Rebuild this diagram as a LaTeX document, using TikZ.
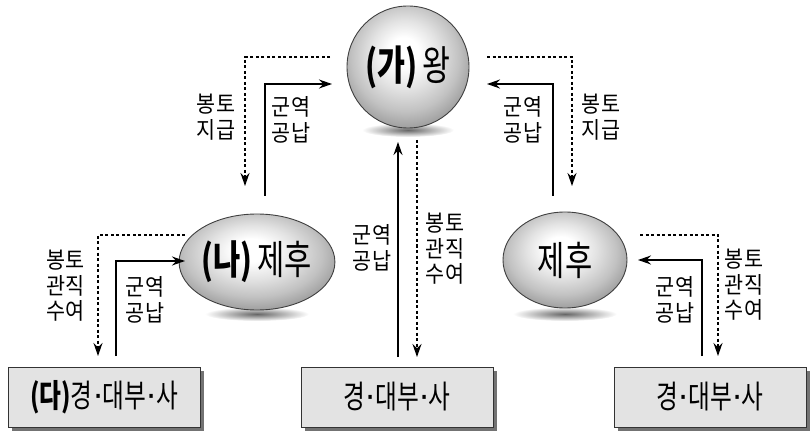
\documentclass[tikz,border=0pt]{standalone}
\usepackage{fontspec}
\newfontfamily\kr{Noto Sans CJK KR}[FakeStretch=0.9]
\newfontfamily\krbig{Noto Sans CJK KR}[FakeStretch=0.74]
\newfontfamily\dv{DejaVu Sans}
\newcommand\mdot{{\dv\kern0.01em·\kern-0.02em}}
\usetikzlibrary{arrows.meta,shadows,shapes.geometric}
\pgfdeclareradialshading{sphere}{\pgfpoint{-2bp}{7bp}}{%
  color(0bp)=(white); color(6bp)=(white); color(14bp)=(gray!22);
  color(22bp)=(gray!48); color(28bp)=(gray!75); color(50bp)=(gray!75)}
\tikzset{
  lbl/.style={font=\kr\fontsize{23}{25.5}\selectfont, align=center, inner sep=0pt},
  ballnode/.style={circle, minimum size=122pt, inner sep=0pt, shading=sphere, draw=black!75, line width=0.9pt, font=\krbig\fontsize{41}{42}\selectfont},
  eggnode/.style={ellipse, minimum width=124pt, minimum height=96pt, inner sep=0pt, shading=sphere, draw=black!75, line width=0.9pt, font=\krbig\fontsize{40}{42}\selectfont},
  boxnode/.style={rectangle, minimum width=192pt, minimum height=60pt, fill=gray!22, draw=black!80, line width=0.8pt, font=\krbig\fontsize{32}{34}\selectfont, drop shadow={shadow xshift=4pt, shadow yshift=-4pt, fill=black!55, opacity=1}},
  solidarrow/.style={line width=1.3pt, -{Stealth[length=13pt,width=9pt]}},
  dotarrow/.style={line width=1.3pt, dash pattern=on 3pt off 2.5pt, -{Stealth[length=13pt,width=9pt]}},
  floor/.style={inner color=black!60, outer color=white},
}
\begin{document}
\begin{tikzpicture}[x=1pt,y=-1pt]
\useasboundingbox (0,0) rectangle (812,433);
% floor shadows
\shade[floor] (408,130) ellipse (46pt and 7pt);
\shade[floor] (257,314) ellipse (52pt and 7pt);
\shade[floor] (565,314) ellipse (52pt and 7pt);
% main nodes
\node[ballnode] (king) at (408,67) {{\bfseries(가)}\kern0.12em왕};
\node[eggnode] (lordL) at (257,262) {{\bfseries(나)}\kern0.12em제후};
\node[eggnode] (lordR) at (565,260) {제후};
\node[boxnode] (boxL) at (104,397) {{\bfseries(다)}경\mdot 대부\mdot 사};
\node[boxnode] (boxM) at (397,397) {경\mdot 대부\mdot 사};
\node[boxnode] (boxR) at (710,397) {경\mdot 대부\mdot 사};
% connector coordinates
\coordinate (a1) at (330,57);  \coordinate (a2) at (245,186);
\coordinate (b1) at (265,196); \coordinate (b2) at (332,84);
\coordinate (c1) at (487,57);  \coordinate (c2) at (572,186);
\coordinate (d1) at (553,196); \coordinate (d2) at (487,84);
\coordinate (e1) at (398,357); \coordinate (e2) at (398,142);
\coordinate (f1) at (417,140); \coordinate (f2) at (417,357);
\coordinate (g1) at (185,235); \coordinate (g2) at (98,356);
\coordinate (h1) at (116,356); \coordinate (h2) at (185,261);
\coordinate (i1) at (640,235); \coordinate (i2) at (718,356);
\coordinate (j1) at (702,356); \coordinate (j2) at (638,260);
% connectors
\draw[dotarrow] (a1) -| (a2);
\draw[solidarrow] (b1) |- (b2);
\draw[dotarrow] (c1) -| (c2);
\draw[solidarrow] (d1) |- (d2);
\draw[solidarrow] (e1) -- (e2);
\draw[dotarrow] (f1) -- (f2);
\draw[dotarrow] (g1) -| (g2);
\draw[solidarrow] (h1) |- (h2);
\draw[dotarrow] (i1) -| (i2);
\draw[solidarrow] (j1) |- (j2);
% labels
\node[lbl] (t1) at (216,117) {봉토\\지급};
\node[lbl] (t2) at (291,120) {군역\\공납};
\node[lbl] (t3) at (523,120) {군역\\공납};
\node[lbl] (t4) at (601,117) {봉토\\지급};
\node[lbl] (t5) at (66,286) {봉토\\관직\\수여};
\node[lbl] (t6) at (145,300) {군역\\공납};
\node[lbl] (t7) at (372,248) {군역\\공납};
\node[lbl] (t8) at (445,249) {봉토\\관직\\수여};
\node[lbl] (t9) at (675,300) {군역\\공납};
\node[lbl] (t10) at (744,285) {봉토\\관직\\수여};
\end{tikzpicture}
\end{document}
